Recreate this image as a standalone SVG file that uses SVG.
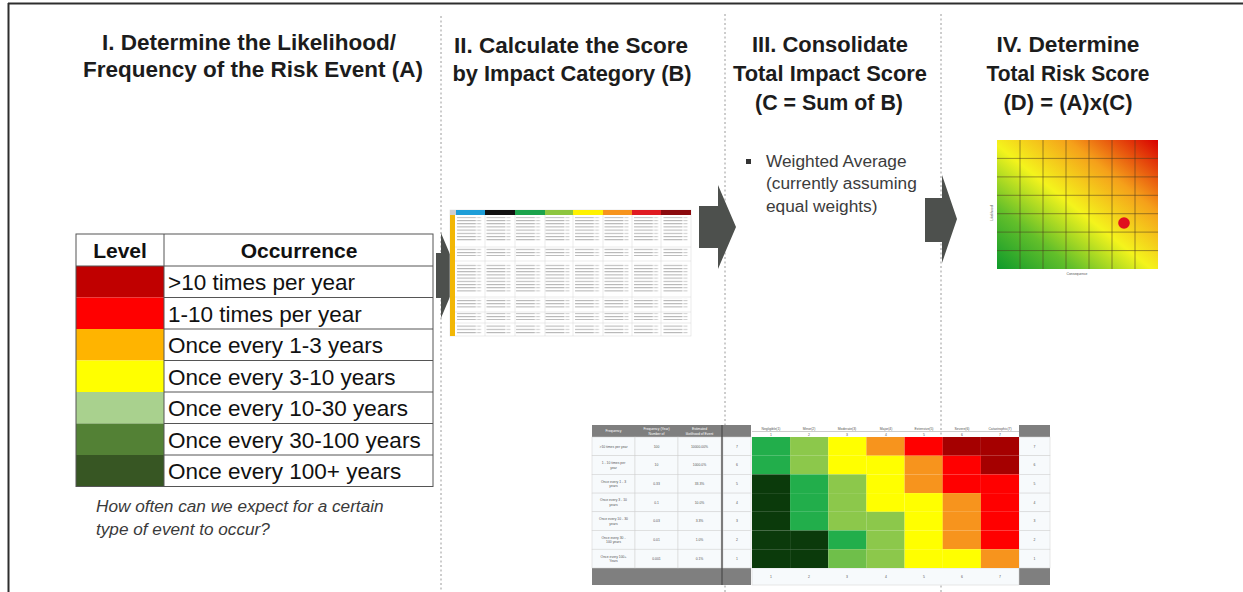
<svg xmlns="http://www.w3.org/2000/svg" width="1243" height="592" viewBox="0 0 1243 592">
<style>
.h{font-family:"Liberation Sans",Arial,sans-serif;font-weight:bold;font-size:22px;fill:#1c1c1c;text-anchor:middle}
.th{font-family:"Liberation Sans",Arial,sans-serif;font-weight:bold;font-size:21px;fill:#111;text-anchor:middle}
.occ{font-family:"Liberation Sans",Arial,sans-serif;font-size:22.5px;fill:#111}
.cap{font-family:"Liberation Sans",Arial,sans-serif;font-style:italic;font-size:17.2px;fill:#3a3a3a}
.bul{font-family:"Liberation Sans",Arial,sans-serif;font-size:17.3px;fill:#3c3c3c}
.tiny{font-family:"Liberation Sans",Arial,sans-serif;font-size:3.4px;fill:#555;text-anchor:middle}
.tinyw{font-family:"Liberation Sans",Arial,sans-serif;font-size:3.4px;fill:#fff;text-anchor:middle}
.dash{stroke:#9a9a9a;stroke-width:1;stroke-dasharray:2 2.5;fill:none}
.arrow{fill:#4d504d}
.cell{stroke:#555;stroke-width:1;fill:none}
.g{stroke:#d4d4d4;stroke-width:0.5}
.hm{stroke:#4a3a20;stroke-opacity:0.6;stroke-width:0.9}
.bt{stroke:#d0d0d0;stroke-width:0.5;fill:#f7fafc}
</style>
<defs>
<linearGradient id="heat" x1="0" y1="1" x2="1" y2="0">
<stop offset="0" stop-color="#0e9a2c"/>
<stop offset="0.24" stop-color="#63bf2a"/>
<stop offset="0.48" stop-color="#f4f41c"/>
<stop offset="0.72" stop-color="#f5a01a"/>
<stop offset="1" stop-color="#d80000"/>
</linearGradient>
<pattern id="txt" x="455" y="216" width="29.5" height="3.2" patternUnits="userSpaceOnUse">
<rect x="2" y="0.9" width="19" height="0.9" fill="#a8a8a8"/>
<rect x="22" y="0.9" width="4" height="0.9" fill="#c2c2c2"/>
</pattern>
</defs>
<rect width="1243" height="592" fill="#fff"/>
<line x1="8" y1="3.5" x2="1243" y2="3.5" stroke="#2e2e2e" stroke-width="2"/>
<line x1="8.5" y1="3" x2="8.5" y2="592" stroke="#2e2e2e" stroke-width="2"/>
<g id="dividers">
<line class="dash" x1="441" y1="16" x2="441" y2="592"/>
<line class="dash" x1="725" y1="14" x2="725" y2="592"/>
<line class="dash" x1="941" y1="14" x2="941" y2="592"/>
</g>
<g id="connectors">
<polygon class="arrow" points="436,253 441,253 441,233 459,275.5 441,318 441,298 436,298"/>
<polygon class="arrow" points="699,206 718,206 718,185 736,227 718,269 718,248 699,248"/>
<polygon class="arrow" points="925,198 942,198 942,175 957,219 942,263 942,242 925,242"/>
</g>
<g id="step1">
<text class="h" x="249" y="50" textLength="294" lengthAdjust="spacingAndGlyphs">I. Determine the Likelihood/</text>
<text class="h" x="253" y="77" textLength="340" lengthAdjust="spacingAndGlyphs">Frequency of the Risk Event (A)</text>
<g id="level-table">
<rect x="76" y="266" width="88" height="31.5" fill="#c00000"/>
<rect x="76" y="297.5" width="88" height="31.5" fill="#ff0000"/>
<rect x="76" y="329" width="88" height="31.5" fill="#ffb400"/>
<rect x="76" y="360.5" width="88" height="31.5" fill="#ffff00"/>
<rect x="76" y="392" width="88" height="31.5" fill="#a9d18e"/>
<rect x="76" y="423.5" width="88" height="31.5" fill="#538135"/>
<rect x="76" y="455" width="88" height="31.5" fill="#375623"/>
<rect class="cell" x="76" y="234" width="357" height="252.5"/>
<line class="cell" x1="164" y1="234" x2="164" y2="486.5"/>
<line class="cell" x1="76" y1="266" x2="433" y2="266"/>
<line class="cell" x1="164" y1="297.5" x2="433" y2="297.5"/>
<line class="cell" x1="164" y1="329" x2="433" y2="329"/>
<line class="cell" x1="164" y1="360.5" x2="433" y2="360.5"/>
<line class="cell" x1="164" y1="392" x2="433" y2="392"/>
<line class="cell" x1="164" y1="423.5" x2="433" y2="423.5"/>
<line class="cell" x1="164" y1="455" x2="433" y2="455"/>
<text class="th" x="120" y="258">Level</text>
<text class="th" x="299" y="258">Occurrence</text>
<text class="occ" x="168" y="290">&gt;10 times per year</text>
<text class="occ" x="168" y="321.5">1-10 times per year</text>
<text class="occ" x="168" y="353">Once every 1-3 years</text>
<text class="occ" x="168" y="384.5">Once every 3-10 years</text>
<text class="occ" x="168" y="416">Once every 10-30 years</text>
<text class="occ" x="168" y="447.5">Once every 30-100 years</text>
<text class="occ" x="168" y="479">Once every 100+ years</text>
</g>
<text class="cap" x="96" y="512">How often can we expect for a certain</text>
<text class="cap" x="96" y="535">type of event to occur?</text>
</g>
<g id="step2">
<text class="h" x="571" y="53" textLength="234" lengthAdjust="spacingAndGlyphs">II. Calculate the Score</text>
<text class="h" x="572" y="81" textLength="239" lengthAdjust="spacingAndGlyphs">by Impact Category (B)</text>
<g id="impact-table">
<rect x="450" y="210" width="241" height="126" fill="#fff" stroke="#dcdcdc" stroke-width="0.6"/>
<rect x="450" y="210" width="6" height="5" fill="#cfcfcf"/>
<rect x="456" y="210" width="29" height="5" fill="#1e9ed8"/>
<rect x="485" y="210" width="30" height="5" fill="#111"/>
<rect x="515" y="210" width="30" height="5" fill="#1ba34b"/>
<rect x="545" y="210" width="28" height="5" fill="#8dc63f"/>
<rect x="573" y="210" width="30" height="5" fill="#fff200"/>
<rect x="603" y="210" width="29" height="5" fill="#f7941d"/>
<rect x="632" y="210" width="29" height="5" fill="#e01b22"/>
<rect x="661" y="210" width="30" height="5" fill="#8b0a0e"/>
<rect x="450" y="215" width="5" height="121" fill="#f2b705"/>
<rect x="455" y="217" width="236" height="24" fill="url(#txt)"/>
<rect x="455" y="248" width="236" height="8" fill="url(#txt)"/>
<rect x="455" y="263" width="236" height="29" fill="url(#txt)"/>
<rect x="455" y="298" width="236" height="11" fill="url(#txt)"/>
<rect x="455" y="313" width="236" height="7" fill="url(#txt)"/>
<rect x="455" y="324" width="236" height="10" fill="url(#txt)"/>
<line class="g" x1="485" y1="215" x2="485" y2="336"/>
<line class="g" x1="515" y1="215" x2="515" y2="336"/>
<line class="g" x1="545" y1="215" x2="545" y2="336"/>
<line class="g" x1="573" y1="215" x2="573" y2="336"/>
<line class="g" x1="603" y1="215" x2="603" y2="336"/>
<line class="g" x1="632" y1="215" x2="632" y2="336"/>
<line class="g" x1="661" y1="215" x2="661" y2="336"/>
<line class="g" x1="455" y1="247" x2="691" y2="247"/>
<line class="g" x1="455" y1="261" x2="691" y2="261"/>
<line class="g" x1="455" y1="297" x2="691" y2="297"/>
<line class="g" x1="455" y1="312" x2="691" y2="312"/>
<line class="g" x1="455" y1="323" x2="691" y2="323"/>
</g>
</g>
<g id="step3">
<text class="h" x="830" y="52" textLength="156" lengthAdjust="spacingAndGlyphs">III. Consolidate</text>
<text class="h" x="830" y="81" textLength="194" lengthAdjust="spacingAndGlyphs">Total Impact Score</text>
<text class="h" x="829" y="110" textLength="148" lengthAdjust="spacingAndGlyphs">(C = Sum of B)</text>
<rect x="746" y="159" width="5" height="5" fill="#333"/>
<text class="bul" x="766" y="167">Weighted Average</text>
<text class="bul" x="766" y="189">(currently assuming</text>
<text class="bul" x="766" y="212">equal weights)</text>
</g>
<g id="step4">
<text class="h" x="1068" y="52" textLength="143" lengthAdjust="spacingAndGlyphs">IV. Determine</text>
<text class="h" x="1068" y="81" textLength="163" lengthAdjust="spacingAndGlyphs">Total Risk Score</text>
<text class="h" x="1068" y="110" textLength="129" lengthAdjust="spacingAndGlyphs">(D) = (A)x(C)</text>
<g id="heatmap">
<rect x="997" y="140" width="161" height="129" fill="url(#heat)"/>
<line class="hm" x1="1020" y1="140" x2="1020" y2="269"/>
<line class="hm" x1="1043" y1="140" x2="1043" y2="269"/>
<line class="hm" x1="1066" y1="140" x2="1066" y2="269"/>
<line class="hm" x1="1089" y1="140" x2="1089" y2="269"/>
<line class="hm" x1="1112" y1="140" x2="1112" y2="269"/>
<line class="hm" x1="1135" y1="140" x2="1135" y2="269"/>
<line class="hm" x1="997" y1="158.4" x2="1158" y2="158.4"/>
<line class="hm" x1="997" y1="176.9" x2="1158" y2="176.9"/>
<line class="hm" x1="997" y1="195.3" x2="1158" y2="195.3"/>
<line class="hm" x1="997" y1="213.7" x2="1158" y2="213.7"/>
<line class="hm" x1="997" y1="232.1" x2="1158" y2="232.1"/>
<line class="hm" x1="997" y1="250.6" x2="1158" y2="250.6"/>
<circle cx="1124" cy="223" r="5.8" fill="#e0101e"/>
<text class="tiny" transform="translate(993,213) rotate(-90)">Likelihood</text>
<text class="tiny" x="1077" y="275">Consequence</text>
</g>
</g>
<g id="risk-matrix">
<rect x="592" y="425" width="159" height="12" fill="#7f7f7f"/>
<rect x="592" y="568" width="159" height="17" fill="#7f7f7f"/>
<rect x="1019" y="425" width="31" height="12" fill="#7f7f7f"/>
<rect x="1019" y="568" width="31" height="17" fill="#7f7f7f"/>
<text class="tinyw" x="613.5" y="432">Frequency</text>
<text class="tinyw" x="656.5" y="430">Frequency (Year)</text>
<text class="tinyw" x="656.5" y="434.5">Number of</text>
<text class="tinyw" x="699.5" y="430">Estimated</text>
<text class="tinyw" x="699.5" y="434.5">likelihood of Event</text>
<g>
<rect class="bt" x="592" y="437" width="43" height="18.7"/><rect class="bt" x="635" y="437" width="43" height="18.7"/><rect class="bt" x="678" y="437" width="43" height="18.7"/><rect class="bt" x="723" y="437" width="28" height="18.7"/>
<rect class="bt" x="592" y="455.7" width="43" height="18.7"/><rect class="bt" x="635" y="455.7" width="43" height="18.7"/><rect class="bt" x="678" y="455.7" width="43" height="18.7"/><rect class="bt" x="723" y="455.7" width="28" height="18.7"/>
<rect class="bt" x="592" y="474.4" width="43" height="18.7"/><rect class="bt" x="635" y="474.4" width="43" height="18.7"/><rect class="bt" x="678" y="474.4" width="43" height="18.7"/><rect class="bt" x="723" y="474.4" width="28" height="18.7"/>
<rect class="bt" x="592" y="493.1" width="43" height="18.7"/><rect class="bt" x="635" y="493.1" width="43" height="18.7"/><rect class="bt" x="678" y="493.1" width="43" height="18.7"/><rect class="bt" x="723" y="493.1" width="28" height="18.7"/>
<rect class="bt" x="592" y="511.8" width="43" height="18.7"/><rect class="bt" x="635" y="511.8" width="43" height="18.7"/><rect class="bt" x="678" y="511.8" width="43" height="18.7"/><rect class="bt" x="723" y="511.8" width="28" height="18.7"/>
<rect class="bt" x="592" y="530.5" width="43" height="18.7"/><rect class="bt" x="635" y="530.5" width="43" height="18.7"/><rect class="bt" x="678" y="530.5" width="43" height="18.7"/><rect class="bt" x="723" y="530.5" width="28" height="18.7"/>
<rect class="bt" x="592" y="549.2" width="43" height="18.8"/><rect class="bt" x="635" y="549.2" width="43" height="18.8"/><rect class="bt" x="678" y="549.2" width="43" height="18.8"/><rect class="bt" x="723" y="549.2" width="28" height="18.8"/>
<rect class="bt" x="1019" y="437" width="31" height="18.7"/><rect class="bt" x="1019" y="455.7" width="31" height="18.7"/><rect class="bt" x="1019" y="474.4" width="31" height="18.7"/><rect class="bt" x="1019" y="493.1" width="31" height="18.7"/><rect class="bt" x="1019" y="511.8" width="31" height="18.7"/><rect class="bt" x="1019" y="530.5" width="31" height="18.7"/><rect class="bt" x="1019" y="549.2" width="31" height="18.8"/>
<rect class="bt" x="752" y="568" width="267" height="17" fill="#fff"/>
</g>
<line x1="722" y1="425" x2="722" y2="585" stroke="#555" stroke-width="1.5"/>
<g>
<rect x="752" y="437" width="38.2" height="18.7" fill="#22ae4b"/><rect x="790.1" y="437" width="38.2" height="18.7" fill="#8cc84b"/><rect x="828.3" y="437" width="38.2" height="18.7" fill="#ffff00"/><rect x="866.4" y="437" width="38.2" height="18.7" fill="#f7941d"/><rect x="904.6" y="437" width="38.2" height="18.7" fill="#ff0000"/><rect x="942.7" y="437" width="38.2" height="18.7" fill="#a50000"/><rect x="980.9" y="437" width="38.1" height="18.7" fill="#a50000"/>
<rect x="752" y="455.7" width="38.2" height="18.7" fill="#22ae4b"/><rect x="790.1" y="455.7" width="38.2" height="18.7" fill="#8cc84b"/><rect x="828.3" y="455.7" width="38.2" height="18.7" fill="#ffff00"/><rect x="866.4" y="455.7" width="38.2" height="18.7" fill="#ffff00"/><rect x="904.6" y="455.7" width="38.2" height="18.7" fill="#f7941d"/><rect x="942.7" y="455.7" width="38.2" height="18.7" fill="#ff0000"/><rect x="980.9" y="455.7" width="38.1" height="18.7" fill="#a50000"/>
<rect x="752" y="474.4" width="38.2" height="18.7" fill="#0b3a0b"/><rect x="790.1" y="474.4" width="38.2" height="18.7" fill="#22ae4b"/><rect x="828.3" y="474.4" width="38.2" height="18.7" fill="#8cc84b"/><rect x="866.4" y="474.4" width="38.2" height="18.7" fill="#ffff00"/><rect x="904.6" y="474.4" width="38.2" height="18.7" fill="#f7941d"/><rect x="942.7" y="474.4" width="38.2" height="18.7" fill="#ff0000"/><rect x="980.9" y="474.4" width="38.1" height="18.7" fill="#ff0000"/>
<rect x="752" y="493.1" width="38.2" height="18.7" fill="#0b3a0b"/><rect x="790.1" y="493.1" width="38.2" height="18.7" fill="#22ae4b"/><rect x="828.3" y="493.1" width="38.2" height="18.7" fill="#8cc84b"/><rect x="866.4" y="493.1" width="38.2" height="18.7" fill="#ffff00"/><rect x="904.6" y="493.1" width="38.2" height="18.7" fill="#ffff00"/><rect x="942.7" y="493.1" width="38.2" height="18.7" fill="#f7941d"/><rect x="980.9" y="493.1" width="38.1" height="18.7" fill="#ff0000"/>
<rect x="752" y="511.8" width="38.2" height="18.7" fill="#0b3a0b"/><rect x="790.1" y="511.8" width="38.2" height="18.7" fill="#22ae4b"/><rect x="828.3" y="511.8" width="38.2" height="18.7" fill="#8cc84b"/><rect x="866.4" y="511.8" width="38.2" height="18.7" fill="#8cc84b"/><rect x="904.6" y="511.8" width="38.2" height="18.7" fill="#ffff00"/><rect x="942.7" y="511.8" width="38.2" height="18.7" fill="#f7941d"/><rect x="980.9" y="511.8" width="38.1" height="18.7" fill="#ff0000"/>
<rect x="752" y="530.5" width="38.2" height="18.7" fill="#0b3a0b"/><rect x="790.1" y="530.5" width="38.2" height="18.7" fill="#0b3a0b"/><rect x="828.3" y="530.5" width="38.2" height="18.7" fill="#22ae4b"/><rect x="866.4" y="530.5" width="38.2" height="18.7" fill="#8cc84b"/><rect x="904.6" y="530.5" width="38.2" height="18.7" fill="#ffff00"/><rect x="942.7" y="530.5" width="38.2" height="18.7" fill="#f7941d"/><rect x="980.9" y="530.5" width="38.1" height="18.7" fill="#ff0000"/>
<rect x="752" y="549.2" width="38.2" height="18.8" fill="#0b3a0b"/><rect x="790.1" y="549.2" width="38.2" height="18.8" fill="#0b3a0b"/><rect x="828.3" y="549.2" width="38.2" height="18.8" fill="#6fbf4a"/><rect x="866.4" y="549.2" width="38.2" height="18.8" fill="#8cc84b"/><rect x="904.6" y="549.2" width="38.2" height="18.8" fill="#ffff00"/><rect x="942.7" y="549.2" width="38.2" height="18.8" fill="#ffff00"/><rect x="980.9" y="549.2" width="38.1" height="18.8" fill="#f7941d"/>
</g>
<line x1="752" y1="431.5" x2="1019" y2="431.5" stroke="#999" stroke-width="0.5"/>
<text class="tiny" x="771" y="430">Negligible(1)</text><text class="tiny" x="809" y="430">Minor(2)</text><text class="tiny" x="847" y="430">Moderate(3)</text><text class="tiny" x="886" y="430">Major(4)</text><text class="tiny" x="924" y="430">Extensive(5)</text><text class="tiny" x="962" y="430">Severe(6)</text><text class="tiny" x="1000" y="430">Catastrophic(7)</text>
<text class="tiny" x="771" y="435.5">1</text><text class="tiny" x="809" y="435.5">2</text><text class="tiny" x="847" y="435.5">3</text><text class="tiny" x="886" y="435.5">4</text><text class="tiny" x="924" y="435.5">5</text><text class="tiny" x="962" y="435.5">6</text><text class="tiny" x="1000" y="435.5">7</text>
<text class="tiny" x="771" y="578">1</text><text class="tiny" x="809" y="578">2</text><text class="tiny" x="847" y="578">3</text><text class="tiny" x="886" y="578">4</text><text class="tiny" x="924" y="578">5</text><text class="tiny" x="962" y="578">6</text><text class="tiny" x="1000" y="578">7</text>
<text class="tiny" x="613.5" y="447.5">&gt;10 times per year</text>
<text class="tiny" x="613.5" y="464">1 - 10 times per</text><text class="tiny" x="613.5" y="468.5">year</text>
<text class="tiny" x="613.5" y="482.7">Once every 1 - 3</text><text class="tiny" x="613.5" y="487.2">years</text>
<text class="tiny" x="613.5" y="501.4">Once every 3 - 10</text><text class="tiny" x="613.5" y="505.9">years</text>
<text class="tiny" x="613.5" y="520.1">Once every 10 - 30</text><text class="tiny" x="613.5" y="524.6">years</text>
<text class="tiny" x="613.5" y="538.8">Once every 30 -</text><text class="tiny" x="613.5" y="543.3">100 years</text>
<text class="tiny" x="613.5" y="557.5">Once every 100+</text><text class="tiny" x="613.5" y="562">Years</text>
<text class="tiny" x="656.5" y="447.5">100</text><text class="tiny" x="656.5" y="466.2">10</text><text class="tiny" x="656.5" y="484.9">0.33</text><text class="tiny" x="656.5" y="503.6">0.1</text><text class="tiny" x="656.5" y="522.3">0.03</text><text class="tiny" x="656.5" y="541">0.01</text><text class="tiny" x="656.5" y="559.7">0.001</text>
<text class="tiny" x="699.5" y="447.5">10000.00%</text><text class="tiny" x="699.5" y="466.2">1000.0%</text><text class="tiny" x="699.5" y="484.9">33.3%</text><text class="tiny" x="699.5" y="503.6">10.0%</text><text class="tiny" x="699.5" y="522.3">3.3%</text><text class="tiny" x="699.5" y="541">1.0%</text><text class="tiny" x="699.5" y="559.7">0.1%</text>
<text class="tiny" x="737" y="447.5">7</text><text class="tiny" x="737" y="466.2">6</text><text class="tiny" x="737" y="484.9">5</text><text class="tiny" x="737" y="503.6">4</text><text class="tiny" x="737" y="522.3">3</text><text class="tiny" x="737" y="541">2</text><text class="tiny" x="737" y="559.7">1</text>
<text class="tiny" x="1034.5" y="447.5">7</text><text class="tiny" x="1034.5" y="466.2">6</text><text class="tiny" x="1034.5" y="484.9">5</text><text class="tiny" x="1034.5" y="503.6">4</text><text class="tiny" x="1034.5" y="522.3">3</text><text class="tiny" x="1034.5" y="541">2</text><text class="tiny" x="1034.5" y="559.7">1</text>
</g>
</svg>
